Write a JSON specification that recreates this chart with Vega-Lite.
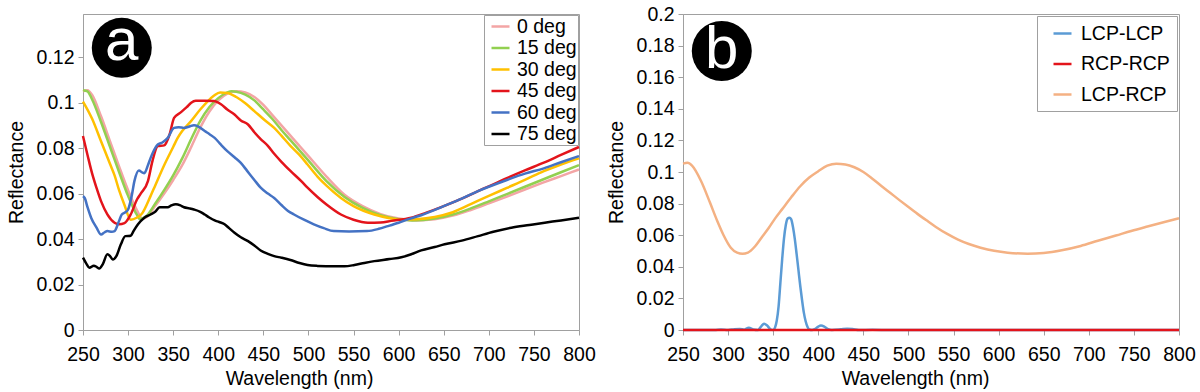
{
  "$schema": "https://vega.github.io/schema/vega-lite/v6.json",
  "background": "white",
  "padding": {"left": 5, "top": 3, "right": 21, "bottom": 2},
  "config": {
    "font": "Liberation Sans",
    "view": {"stroke": "#a0a0a0", "strokeWidth": 1},
    "axis": {
      "grid": false, "domainColor": "#a0a0a0", "tickColor": "#a0a0a0", "tickSize": 5,
      "labelFont": "Liberation Sans", "labelFontSize": 19.5, "labelColor": "#000000",
      "labelOverlap": false, "labelFlush": false, "labelBound": false,
      "titleFont": "Liberation Sans", "titleFontSize": 19.5, "titleFontWeight": "normal", "titleColor": "#000000"
    },
    "axisX": {"labelPadding": 10, "titlePadding": 6},
    "axisY": {"labelPadding": 4, "titlePadding": 10},
    "legend": {
      "labelFont": "Liberation Sans", "labelFontSize": 19.5, "labelColor": "#000000",
      "strokeColor": "#a0a0a0", "fillColor": "white", "symbolType": "stroke",
      "symbolSize": 324, "symbolStrokeWidth": 2.5
    }
  },
  "datasets": {
    "a": [
      {"wl":250,"R":0.1050,"s":"0 deg"},{"wl":255,"R":0.1055,"s":"0 deg"},{"wl":260,"R":0.1035,"s":"0 deg"},{"wl":270,"R":0.0940,"s":"0 deg"},{"wl":280,"R":0.0830,"s":"0 deg"},{"wl":290,"R":0.0720,"s":"0 deg"},{"wl":300,"R":0.0615,"s":"0 deg"},{"wl":310,"R":0.0525,"s":"0 deg"},{"wl":316,"R":0.0490,"s":"0 deg"},{"wl":320,"R":0.0495,"s":"0 deg"},{"wl":330,"R":0.0545,"s":"0 deg"},{"wl":340,"R":0.0600,"s":"0 deg"},{"wl":350,"R":0.0660,"s":"0 deg"},{"wl":360,"R":0.0725,"s":"0 deg"},{"wl":370,"R":0.0805,"s":"0 deg"},{"wl":380,"R":0.0890,"s":"0 deg"},{"wl":390,"R":0.0960,"s":"0 deg"},{"wl":400,"R":0.1010,"s":"0 deg"},{"wl":410,"R":0.1040,"s":"0 deg"},{"wl":420,"R":0.1050,"s":"0 deg"},{"wl":430,"R":0.1045,"s":"0 deg"},{"wl":440,"R":0.1025,"s":"0 deg"},{"wl":450,"R":0.0990,"s":"0 deg"},{"wl":460,"R":0.0945,"s":"0 deg"},{"wl":470,"R":0.0900,"s":"0 deg"},{"wl":480,"R":0.0855,"s":"0 deg"},{"wl":490,"R":0.0810,"s":"0 deg"},{"wl":500,"R":0.0765,"s":"0 deg"},{"wl":520,"R":0.0675,"s":"0 deg"},{"wl":540,"R":0.0595,"s":"0 deg"},{"wl":560,"R":0.0545,"s":"0 deg"},{"wl":580,"R":0.0510,"s":"0 deg"},{"wl":600,"R":0.0490,"s":"0 deg"},{"wl":620,"R":0.0482,"s":"0 deg"},{"wl":640,"R":0.0487,"s":"0 deg"},{"wl":660,"R":0.0503,"s":"0 deg"},{"wl":680,"R":0.0528,"s":"0 deg"},{"wl":700,"R":0.0557,"s":"0 deg"},{"wl":720,"R":0.0587,"s":"0 deg"},{"wl":740,"R":0.0618,"s":"0 deg"},{"wl":760,"R":0.0648,"s":"0 deg"},{"wl":780,"R":0.0677,"s":"0 deg"},{"wl":800,"R":0.0706,"s":"0 deg"},

      {"wl":250,"R":0.1055,"s":"15 deg"},{"wl":255,"R":0.1050,"s":"15 deg"},{"wl":260,"R":0.1015,"s":"15 deg"},{"wl":270,"R":0.0915,"s":"15 deg"},{"wl":280,"R":0.0805,"s":"15 deg"},{"wl":290,"R":0.0695,"s":"15 deg"},{"wl":300,"R":0.0590,"s":"15 deg"},{"wl":310,"R":0.0505,"s":"15 deg"},{"wl":313,"R":0.0488,"s":"15 deg"},{"wl":320,"R":0.0500,"s":"15 deg"},{"wl":330,"R":0.0555,"s":"15 deg"},{"wl":340,"R":0.0615,"s":"15 deg"},{"wl":350,"R":0.0680,"s":"15 deg"},{"wl":360,"R":0.0755,"s":"15 deg"},{"wl":370,"R":0.0840,"s":"15 deg"},{"wl":380,"R":0.0920,"s":"15 deg"},{"wl":390,"R":0.0980,"s":"15 deg"},{"wl":400,"R":0.1020,"s":"15 deg"},{"wl":410,"R":0.1045,"s":"15 deg"},{"wl":415,"R":0.1050,"s":"15 deg"},{"wl":420,"R":0.1048,"s":"15 deg"},{"wl":430,"R":0.1035,"s":"15 deg"},{"wl":440,"R":0.1010,"s":"15 deg"},{"wl":450,"R":0.0970,"s":"15 deg"},{"wl":460,"R":0.0928,"s":"15 deg"},{"wl":470,"R":0.0880,"s":"15 deg"},{"wl":480,"R":0.0835,"s":"15 deg"},{"wl":490,"R":0.0790,"s":"15 deg"},{"wl":500,"R":0.0745,"s":"15 deg"},{"wl":520,"R":0.0655,"s":"15 deg"},{"wl":540,"R":0.0585,"s":"15 deg"},{"wl":560,"R":0.0537,"s":"15 deg"},{"wl":580,"R":0.0505,"s":"15 deg"},{"wl":600,"R":0.0487,"s":"15 deg"},{"wl":615,"R":0.0482,"s":"15 deg"},{"wl":640,"R":0.0490,"s":"15 deg"},{"wl":660,"R":0.0508,"s":"15 deg"},{"wl":680,"R":0.0535,"s":"15 deg"},{"wl":700,"R":0.0566,"s":"15 deg"},{"wl":720,"R":0.0598,"s":"15 deg"},{"wl":740,"R":0.0630,"s":"15 deg"},{"wl":760,"R":0.0662,"s":"15 deg"},{"wl":780,"R":0.0694,"s":"15 deg"},{"wl":800,"R":0.0725,"s":"15 deg"},

      {"wl":250,"R":0.1005,"s":"30 deg"},{"wl":260,"R":0.0930,"s":"30 deg"},{"wl":270,"R":0.0830,"s":"30 deg"},{"wl":280,"R":0.0730,"s":"30 deg"},{"wl":285,"R":0.0680,"s":"30 deg"},{"wl":290,"R":0.0615,"s":"30 deg"},{"wl":296,"R":0.0550,"s":"30 deg"},{"wl":303,"R":0.0485,"s":"30 deg"},{"wl":310,"R":0.0495,"s":"30 deg"},{"wl":315,"R":0.0510,"s":"30 deg"},{"wl":325,"R":0.0590,"s":"30 deg"},{"wl":330,"R":0.0635,"s":"30 deg"},{"wl":340,"R":0.0725,"s":"30 deg"},{"wl":350,"R":0.0805,"s":"30 deg"},{"wl":355,"R":0.0845,"s":"30 deg"},{"wl":360,"R":0.0875,"s":"30 deg"},{"wl":370,"R":0.0920,"s":"30 deg"},{"wl":380,"R":0.0970,"s":"30 deg"},{"wl":388,"R":0.1005,"s":"30 deg"},{"wl":395,"R":0.1030,"s":"30 deg"},{"wl":402,"R":0.1045,"s":"30 deg"},{"wl":410,"R":0.1043,"s":"30 deg"},{"wl":420,"R":0.1025,"s":"30 deg"},{"wl":430,"R":0.0997,"s":"30 deg"},{"wl":440,"R":0.0963,"s":"30 deg"},{"wl":450,"R":0.0928,"s":"30 deg"},{"wl":462,"R":0.0889,"s":"30 deg"},{"wl":470,"R":0.0855,"s":"30 deg"},{"wl":480,"R":0.0810,"s":"30 deg"},{"wl":490,"R":0.0770,"s":"30 deg"},{"wl":499,"R":0.0728,"s":"30 deg"},{"wl":510,"R":0.0675,"s":"30 deg"},{"wl":520,"R":0.0635,"s":"30 deg"},{"wl":536,"R":0.0581,"s":"30 deg"},{"wl":550,"R":0.0545,"s":"30 deg"},{"wl":573,"R":0.0508,"s":"30 deg"},{"wl":590,"R":0.0492,"s":"30 deg"},{"wl":605,"R":0.0485,"s":"30 deg"},{"wl":620,"R":0.0487,"s":"30 deg"},{"wl":640,"R":0.0497,"s":"30 deg"},{"wl":660,"R":0.0518,"s":"30 deg"},{"wl":687,"R":0.0567,"s":"30 deg"},{"wl":700,"R":0.0590,"s":"30 deg"},{"wl":720,"R":0.0625,"s":"30 deg"},{"wl":740,"R":0.0660,"s":"30 deg"},{"wl":761,"R":0.0699,"s":"30 deg"},{"wl":780,"R":0.0728,"s":"30 deg"},{"wl":800,"R":0.0755,"s":"30 deg"},

      {"wl":250,"R":0.0853,"s":"45 deg"},{"wl":255,"R":0.0770,"s":"45 deg"},{"wl":260,"R":0.0690,"s":"45 deg"},{"wl":265,"R":0.0625,"s":"45 deg"},{"wl":270,"R":0.0567,"s":"45 deg"},{"wl":277,"R":0.0509,"s":"45 deg"},{"wl":285,"R":0.0472,"s":"45 deg"},{"wl":290,"R":0.0465,"s":"45 deg"},{"wl":296,"R":0.0470,"s":"45 deg"},{"wl":303,"R":0.0509,"s":"45 deg"},{"wl":310,"R":0.0575,"s":"45 deg"},{"wl":314,"R":0.0600,"s":"45 deg"},{"wl":322,"R":0.0655,"s":"45 deg"},{"wl":327,"R":0.0743,"s":"45 deg"},{"wl":333,"R":0.0809,"s":"45 deg"},{"wl":340,"R":0.0812,"s":"45 deg"},{"wl":346,"R":0.0860,"s":"45 deg"},{"wl":351,"R":0.0933,"s":"45 deg"},{"wl":358,"R":0.0956,"s":"45 deg"},{"wl":365,"R":0.0980,"s":"45 deg"},{"wl":370,"R":0.1000,"s":"45 deg"},{"wl":375,"R":0.1008,"s":"45 deg"},{"wl":385,"R":0.1008,"s":"45 deg"},{"wl":395,"R":0.1007,"s":"45 deg"},{"wl":403,"R":0.0993,"s":"45 deg"},{"wl":410,"R":0.0970,"s":"45 deg"},{"wl":418,"R":0.0948,"s":"45 deg"},{"wl":425,"R":0.0922,"s":"45 deg"},{"wl":433,"R":0.0904,"s":"45 deg"},{"wl":440,"R":0.0870,"s":"45 deg"},{"wl":447,"R":0.0840,"s":"45 deg"},{"wl":455,"R":0.0810,"s":"45 deg"},{"wl":462,"R":0.0775,"s":"45 deg"},{"wl":470,"R":0.0740,"s":"45 deg"},{"wl":480,"R":0.0700,"s":"45 deg"},{"wl":492,"R":0.0655,"s":"45 deg"},{"wl":499,"R":0.0626,"s":"45 deg"},{"wl":510,"R":0.0585,"s":"45 deg"},{"wl":520,"R":0.0552,"s":"45 deg"},{"wl":536,"R":0.0508,"s":"45 deg"},{"wl":550,"R":0.0485,"s":"45 deg"},{"wl":566,"R":0.0472,"s":"45 deg"},{"wl":580,"R":0.0473,"s":"45 deg"},{"wl":592,"R":0.0480,"s":"45 deg"},{"wl":614,"R":0.0494,"s":"45 deg"},{"wl":630,"R":0.0515,"s":"45 deg"},{"wl":650,"R":0.0545,"s":"45 deg"},{"wl":670,"R":0.0578,"s":"45 deg"},{"wl":688,"R":0.0611,"s":"45 deg"},{"wl":700,"R":0.0632,"s":"45 deg"},{"wl":720,"R":0.0668,"s":"45 deg"},{"wl":740,"R":0.0702,"s":"45 deg"},{"wl":761,"R":0.0736,"s":"45 deg"},{"wl":780,"R":0.0770,"s":"45 deg"},{"wl":800,"R":0.0805,"s":"45 deg"},

      {"wl":250,"R":0.0589,"s":"60 deg"},{"wl":252,"R":0.0580,"s":"60 deg"},{"wl":255,"R":0.0540,"s":"60 deg"},{"wl":259,"R":0.0494,"s":"60 deg"},{"wl":265,"R":0.0450,"s":"60 deg"},{"wl":270,"R":0.0420,"s":"60 deg"},{"wl":274,"R":0.0430,"s":"60 deg"},{"wl":277,"R":0.0435,"s":"60 deg"},{"wl":282,"R":0.0432,"s":"60 deg"},{"wl":285,"R":0.0435,"s":"60 deg"},{"wl":290,"R":0.0480,"s":"60 deg"},{"wl":293,"R":0.0508,"s":"60 deg"},{"wl":297,"R":0.0518,"s":"60 deg"},{"wl":300,"R":0.0530,"s":"60 deg"},{"wl":304,"R":0.0590,"s":"60 deg"},{"wl":307,"R":0.0655,"s":"60 deg"},{"wl":312,"R":0.0702,"s":"60 deg"},{"wl":316,"R":0.0692,"s":"60 deg"},{"wl":318,"R":0.0690,"s":"60 deg"},{"wl":322,"R":0.0725,"s":"60 deg"},{"wl":325,"R":0.0757,"s":"60 deg"},{"wl":330,"R":0.0800,"s":"60 deg"},{"wl":333,"R":0.0816,"s":"60 deg"},{"wl":338,"R":0.0825,"s":"60 deg"},{"wl":344,"R":0.0845,"s":"60 deg"},{"wl":351,"R":0.0889,"s":"60 deg"},{"wl":356,"R":0.0892,"s":"60 deg"},{"wl":362,"R":0.0889,"s":"60 deg"},{"wl":368,"R":0.0895,"s":"60 deg"},{"wl":373,"R":0.0901,"s":"60 deg"},{"wl":378,"R":0.0895,"s":"60 deg"},{"wl":385,"R":0.0875,"s":"60 deg"},{"wl":390,"R":0.0862,"s":"60 deg"},{"wl":396,"R":0.0845,"s":"60 deg"},{"wl":403,"R":0.0815,"s":"60 deg"},{"wl":410,"R":0.0787,"s":"60 deg"},{"wl":418,"R":0.0760,"s":"60 deg"},{"wl":425,"R":0.0735,"s":"60 deg"},{"wl":432,"R":0.0700,"s":"60 deg"},{"wl":440,"R":0.0660,"s":"60 deg"},{"wl":447,"R":0.0626,"s":"60 deg"},{"wl":455,"R":0.0600,"s":"60 deg"},{"wl":462,"R":0.0581,"s":"60 deg"},{"wl":470,"R":0.0550,"s":"60 deg"},{"wl":477,"R":0.0525,"s":"60 deg"},{"wl":484,"R":0.0508,"s":"60 deg"},{"wl":495,"R":0.0485,"s":"60 deg"},{"wl":506,"R":0.0465,"s":"60 deg"},{"wl":517,"R":0.0448,"s":"60 deg"},{"wl":528,"R":0.0435,"s":"60 deg"},{"wl":545,"R":0.0433,"s":"60 deg"},{"wl":565,"R":0.0435,"s":"60 deg"},{"wl":578,"R":0.0445,"s":"60 deg"},{"wl":588,"R":0.0457,"s":"60 deg"},{"wl":600,"R":0.0472,"s":"60 deg"},{"wl":613,"R":0.0490,"s":"60 deg"},{"wl":625,"R":0.0505,"s":"60 deg"},{"wl":650,"R":0.0545,"s":"60 deg"},{"wl":670,"R":0.0578,"s":"60 deg"},{"wl":688,"R":0.0611,"s":"60 deg"},{"wl":700,"R":0.0630,"s":"60 deg"},{"wl":720,"R":0.0660,"s":"60 deg"},{"wl":740,"R":0.0688,"s":"60 deg"},{"wl":761,"R":0.0711,"s":"60 deg"},{"wl":780,"R":0.0738,"s":"60 deg"},{"wl":800,"R":0.0765,"s":"60 deg"},

      {"wl":250,"R":0.0318,"s":"75 deg"},{"wl":254,"R":0.0290,"s":"75 deg"},{"wl":257,"R":0.0274,"s":"75 deg"},{"wl":262,"R":0.0283,"s":"75 deg"},{"wl":265,"R":0.0278,"s":"75 deg"},{"wl":268,"R":0.0270,"s":"75 deg"},{"wl":272,"R":0.0290,"s":"75 deg"},{"wl":277,"R":0.0333,"s":"75 deg"},{"wl":280,"R":0.0325,"s":"75 deg"},{"wl":283,"R":0.0310,"s":"75 deg"},{"wl":287,"R":0.0325,"s":"75 deg"},{"wl":292,"R":0.0377,"s":"75 deg"},{"wl":297,"R":0.0413,"s":"75 deg"},{"wl":303,"R":0.0415,"s":"75 deg"},{"wl":306,"R":0.0435,"s":"75 deg"},{"wl":311,"R":0.0465,"s":"75 deg"},{"wl":318,"R":0.0494,"s":"75 deg"},{"wl":325,"R":0.0508,"s":"75 deg"},{"wl":330,"R":0.0520,"s":"75 deg"},{"wl":335,"R":0.0540,"s":"75 deg"},{"wl":344,"R":0.0540,"s":"75 deg"},{"wl":348,"R":0.0548,"s":"75 deg"},{"wl":353,"R":0.0553,"s":"75 deg"},{"wl":358,"R":0.0548,"s":"75 deg"},{"wl":362,"R":0.0540,"s":"75 deg"},{"wl":368,"R":0.0535,"s":"75 deg"},{"wl":373,"R":0.0530,"s":"75 deg"},{"wl":380,"R":0.0520,"s":"75 deg"},{"wl":385,"R":0.0508,"s":"75 deg"},{"wl":390,"R":0.0495,"s":"75 deg"},{"wl":396,"R":0.0482,"s":"75 deg"},{"wl":401,"R":0.0475,"s":"75 deg"},{"wl":407,"R":0.0465,"s":"75 deg"},{"wl":412,"R":0.0448,"s":"75 deg"},{"wl":418,"R":0.0428,"s":"75 deg"},{"wl":425,"R":0.0408,"s":"75 deg"},{"wl":433,"R":0.0391,"s":"75 deg"},{"wl":440,"R":0.0372,"s":"75 deg"},{"wl":447,"R":0.0350,"s":"75 deg"},{"wl":455,"R":0.0335,"s":"75 deg"},{"wl":462,"R":0.0325,"s":"75 deg"},{"wl":470,"R":0.0318,"s":"75 deg"},{"wl":480,"R":0.0308,"s":"75 deg"},{"wl":490,"R":0.0295,"s":"75 deg"},{"wl":499,"R":0.0286,"s":"75 deg"},{"wl":510,"R":0.0282,"s":"75 deg"},{"wl":529,"R":0.0280,"s":"75 deg"},{"wl":540,"R":0.0280,"s":"75 deg"},{"wl":551,"R":0.0286,"s":"75 deg"},{"wl":562,"R":0.0295,"s":"75 deg"},{"wl":573,"R":0.0303,"s":"75 deg"},{"wl":590,"R":0.0312,"s":"75 deg"},{"wl":603,"R":0.0320,"s":"75 deg"},{"wl":614,"R":0.0333,"s":"75 deg"},{"wl":625,"R":0.0350,"s":"75 deg"},{"wl":640,"R":0.0365,"s":"75 deg"},{"wl":651,"R":0.0377,"s":"75 deg"},{"wl":670,"R":0.0393,"s":"75 deg"},{"wl":688,"R":0.0413,"s":"75 deg"},{"wl":705,"R":0.0432,"s":"75 deg"},{"wl":725,"R":0.0450,"s":"75 deg"},{"wl":745,"R":0.0462,"s":"75 deg"},{"wl":762,"R":0.0472,"s":"75 deg"},{"wl":780,"R":0.0482,"s":"75 deg"},{"wl":800,"R":0.0494,"s":"75 deg"}
    ],
    "b": [
      {"wl":250,"R":0.0,"s":"LCP-LCP"},{"wl":285,"R":0.0,"s":"LCP-LCP"},{"wl":292,"R":0.0003,"s":"LCP-LCP"},{"wl":300,"R":0.0,"s":"LCP-LCP"},{"wl":307,"R":0.0005,"s":"LCP-LCP"},{"wl":313,"R":0.0007,"s":"LCP-LCP"},{"wl":318,"R":0.0002,"s":"LCP-LCP"},{"wl":323,"R":0.0015,"s":"LCP-LCP"},{"wl":328,"R":0.0003,"s":"LCP-LCP"},{"wl":333,"R":0.0,"s":"LCP-LCP"},{"wl":337,"R":0.0025,"s":"LCP-LCP"},{"wl":340,"R":0.0040,"s":"LCP-LCP"},{"wl":343,"R":0.0030,"s":"LCP-LCP"},{"wl":347,"R":0.0005,"s":"LCP-LCP"},{"wl":350,"R":0.0,"s":"LCP-LCP"},{"wl":352,"R":0.0015,"s":"LCP-LCP"},{"wl":354,"R":0.0060,"s":"LCP-LCP"},{"wl":356,"R":0.0150,"s":"LCP-LCP"},{"wl":358,"R":0.0300,"s":"LCP-LCP"},{"wl":360,"R":0.0450,"s":"LCP-LCP"},{"wl":362,"R":0.0580,"s":"LCP-LCP"},{"wl":364,"R":0.0665,"s":"LCP-LCP"},{"wl":366,"R":0.0705,"s":"LCP-LCP"},{"wl":368,"R":0.0711,"s":"LCP-LCP"},{"wl":370,"R":0.0700,"s":"LCP-LCP"},{"wl":372,"R":0.0650,"s":"LCP-LCP"},{"wl":374,"R":0.0575,"s":"LCP-LCP"},{"wl":376,"R":0.0480,"s":"LCP-LCP"},{"wl":378,"R":0.0380,"s":"LCP-LCP"},{"wl":380,"R":0.0280,"s":"LCP-LCP"},{"wl":382,"R":0.0190,"s":"LCP-LCP"},{"wl":384,"R":0.0110,"s":"LCP-LCP"},{"wl":386,"R":0.0055,"s":"LCP-LCP"},{"wl":388,"R":0.0020,"s":"LCP-LCP"},{"wl":390,"R":0.0003,"s":"LCP-LCP"},{"wl":393,"R":0.0,"s":"LCP-LCP"},{"wl":396,"R":0.0005,"s":"LCP-LCP"},{"wl":400,"R":0.0022,"s":"LCP-LCP"},{"wl":403,"R":0.0028,"s":"LCP-LCP"},{"wl":407,"R":0.0020,"s":"LCP-LCP"},{"wl":411,"R":0.0005,"s":"LCP-LCP"},{"wl":415,"R":0.0,"s":"LCP-LCP"},{"wl":425,"R":0.0004,"s":"LCP-LCP"},{"wl":432,"R":0.0008,"s":"LCP-LCP"},{"wl":438,"R":0.0006,"s":"LCP-LCP"},{"wl":445,"R":0.0,"s":"LCP-LCP"},{"wl":460,"R":0.0001,"s":"LCP-LCP"},{"wl":480,"R":0.0,"s":"LCP-LCP"},{"wl":800,"R":0.0,"s":"LCP-LCP"},

      {"wl":250,"R":0.0,"s":"RCP-RCP"},{"wl":400,"R":0.0,"s":"RCP-RCP"},{"wl":600,"R":0.0,"s":"RCP-RCP"},{"wl":800,"R":0.0,"s":"RCP-RCP"},

      {"wl":250,"R":0.1053,"s":"LCP-RCP"},{"wl":255,"R":0.1058,"s":"LCP-RCP"},{"wl":260,"R":0.1040,"s":"LCP-RCP"},{"wl":270,"R":0.0943,"s":"LCP-RCP"},{"wl":280,"R":0.0805,"s":"LCP-RCP"},{"wl":288,"R":0.0690,"s":"LCP-RCP"},{"wl":295,"R":0.0600,"s":"LCP-RCP"},{"wl":303,"R":0.0521,"s":"LCP-RCP"},{"wl":310,"R":0.0490,"s":"LCP-RCP"},{"wl":316,"R":0.0483,"s":"LCP-RCP"},{"wl":322,"R":0.0490,"s":"LCP-RCP"},{"wl":330,"R":0.0530,"s":"LCP-RCP"},{"wl":337,"R":0.0584,"s":"LCP-RCP"},{"wl":345,"R":0.0645,"s":"LCP-RCP"},{"wl":352,"R":0.0705,"s":"LCP-RCP"},{"wl":360,"R":0.0765,"s":"LCP-RCP"},{"wl":370,"R":0.0840,"s":"LCP-RCP"},{"wl":380,"R":0.0910,"s":"LCP-RCP"},{"wl":390,"R":0.0965,"s":"LCP-RCP"},{"wl":400,"R":0.1005,"s":"LCP-RCP"},{"wl":410,"R":0.1040,"s":"LCP-RCP"},{"wl":420,"R":0.1053,"s":"LCP-RCP"},{"wl":430,"R":0.1048,"s":"LCP-RCP"},{"wl":440,"R":0.1030,"s":"LCP-RCP"},{"wl":450,"R":0.1000,"s":"LCP-RCP"},{"wl":460,"R":0.0958,"s":"LCP-RCP"},{"wl":470,"R":0.0912,"s":"LCP-RCP"},{"wl":480,"R":0.0867,"s":"LCP-RCP"},{"wl":490,"R":0.0822,"s":"LCP-RCP"},{"wl":500,"R":0.0778,"s":"LCP-RCP"},{"wl":510,"R":0.0735,"s":"LCP-RCP"},{"wl":520,"R":0.0694,"s":"LCP-RCP"},{"wl":530,"R":0.0654,"s":"LCP-RCP"},{"wl":543,"R":0.0608,"s":"LCP-RCP"},{"wl":555,"R":0.0572,"s":"LCP-RCP"},{"wl":567,"R":0.0544,"s":"LCP-RCP"},{"wl":580,"R":0.0521,"s":"LCP-RCP"},{"wl":595,"R":0.0501,"s":"LCP-RCP"},{"wl":610,"R":0.0489,"s":"LCP-RCP"},{"wl":632,"R":0.0483,"s":"LCP-RCP"},{"wl":650,"R":0.0488,"s":"LCP-RCP"},{"wl":670,"R":0.0505,"s":"LCP-RCP"},{"wl":691,"R":0.0532,"s":"LCP-RCP"},{"wl":710,"R":0.0565,"s":"LCP-RCP"},{"wl":730,"R":0.0598,"s":"LCP-RCP"},{"wl":747,"R":0.0627,"s":"LCP-RCP"},{"wl":765,"R":0.0655,"s":"LCP-RCP"},{"wl":785,"R":0.0685,"s":"LCP-RCP"},{"wl":800,"R":0.0707,"s":"LCP-RCP"}
    ],
    "badgeA": [{"wl": 293, "R": 0.1241, "label": "a"}],
    "badgeB": [{"wl": 293, "R": 0.1766, "label": "b"}]
  },
  "spacing": 104,
  "bounds": "flush",
  "resolve": {"scale": {"color": "independent", "x": "independent", "y": "independent"}, "legend": {"color": "independent"}},
  "hconcat": [
    {
      "width": 496, "height": 316,
      "layer": [
        {
          "data": {"name": "a"},
          "mark": {"type": "line", "strokeWidth": 2.5, "interpolate": "monotone"},
          "encoding": {
            "x": {"field": "wl", "type": "quantitative", "scale": {"domain": [250, 800], "nice": false},
                  "axis": {"values": [250,300,350,400,450,500,550,600,650,700,750,800], "tickCount": 30, "labelOverlap": false, "title": "Wavelength (nm)", "titleX": 216}},
            "y": {"field": "R", "type": "quantitative", "scale": {"domain": [0, 0.139], "nice": false, "zero": true},
                  "axis": {"values": [0,0.02,0.04,0.06,0.08,0.1,0.12], "tickCount": 30, "labelOverlap": false, "format": "~g", "title": "Reflectance"}},
            "color": {"field": "s", "type": "nominal",
                      "scale": {"domain": ["0 deg","15 deg","30 deg","45 deg","60 deg","75 deg"],
                                "range": ["#F3A5A5","#92D050","#FFC000","#E3141B","#4472C4","#000000"]},
                      "legend": {"title": null, "orient": "top-right", "offset": 1, "padding": 1, "rowPadding": 1.5, "symbolOffset": 5, "labelOffset": 6}}
          }
        },
        {
          "data": {"name": "badgeA"},
          "mark": {"type": "point", "filled": true, "color": "#000000", "opacity": 1, "size": 3600},
          "encoding": {"x": {"field": "wl", "type": "quantitative"}, "y": {"field": "R", "type": "quantitative"}}
        },
        {
          "data": {"name": "badgeA"},
          "mark": {"type": "text", "color": "#ffffff", "fontSize": 60, "font": "Liberation Sans", "baseline": "middle", "align": "center", "dy": -6},
          "encoding": {"x": {"field": "wl", "type": "quantitative"}, "y": {"field": "R", "type": "quantitative"}, "text": {"field": "label"}}
        }
      ]
    },
    {
      "width": 496, "height": 316,
      "layer": [
        {
          "data": {"name": "b"},
          "mark": {"type": "line", "strokeWidth": 2.5, "interpolate": "monotone"},
          "encoding": {
            "x": {"field": "wl", "type": "quantitative", "scale": {"domain": [250, 800], "nice": false},
                  "axis": {"values": [250,300,350,400,450,500,550,600,650,700,750,800], "tickCount": 30, "labelOverlap": false, "title": "Wavelength (nm)", "titleX": 232}},
            "y": {"field": "R", "type": "quantitative", "scale": {"domain": [0, 0.2], "nice": false},
                  "axis": {"values": [0,0.02,0.04,0.06,0.08,0.1,0.12,0.14,0.16,0.18,0.2], "tickCount": 30, "labelOverlap": false, "format": "~g", "title": "Reflectance"}},
            "color": {"field": "s", "type": "nominal",
                      "scale": {"domain": ["LCP-LCP","RCP-RCP","LCP-RCP"], "range": ["#5B9BD5","#E3141B","#F4B183"]},
                      "legend": {"title": null, "orient": "top-right", "offset": 2, "padding": 7, "rowPadding": 10.5, "symbolOffset": 8, "labelOffset": 8}}
          }
        },
        {
          "data": {"name": "badgeB"},
          "mark": {"type": "point", "filled": true, "color": "#000000", "opacity": 1, "size": 3600},
          "encoding": {"x": {"field": "wl", "type": "quantitative"}, "y": {"field": "R", "type": "quantitative"}}
        },
        {
          "data": {"name": "badgeB"},
          "mark": {"type": "text", "color": "#ffffff", "fontSize": 60, "font": "Liberation Sans", "baseline": "middle", "align": "center", "dy": -1},
          "encoding": {"x": {"field": "wl", "type": "quantitative"}, "y": {"field": "R", "type": "quantitative"}, "text": {"field": "label"}}
        }
      ]
    }
  ]
}
